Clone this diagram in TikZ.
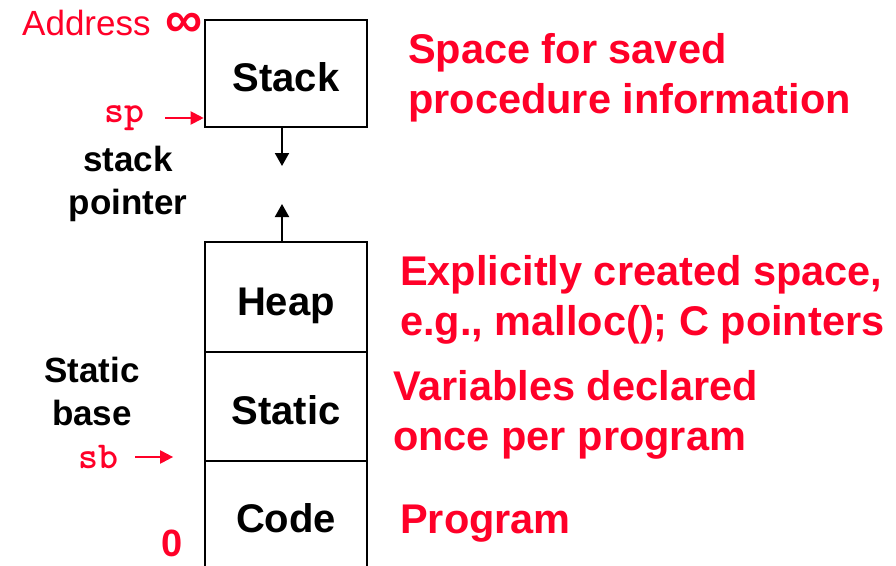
\documentclass[tikz,border=0pt]{standalone}
\usepackage{fontspec}
\setmainfont{Liberation Sans}
\usetikzlibrary{arrows.meta,positioning}
\definecolor{memred}{RGB}{255,0,40}

\begin{document}
\begin{tikzpicture}[x=1pt,y=-1pt,
	seg/.style={draw,line width=2.6pt,minimum width=162pt,inner sep=0pt,text height=36pt,text depth=0pt,font=\fontsize{40}{40}\selectfont\bfseries},
	note/.style={anchor=west,align=left,text=memred,inner sep=0pt,font=\fontsize{41.5}{50}\selectfont\bfseries},
	side/.style={align=center,inner sep=0pt,font=\fontsize{35}{43}\selectfont\bfseries},
	reg/.style={inner sep=0pt,text=memred,font=\fontsize{38}{38}\selectfont\ttfamily\bfseries},
	growarrow/.style={line width=2pt,-{Triangle[length=13pt,width=14pt]}},
	ptr/.style={memred,line width=2pt,-{Triangle[length=13pt,width=13pt]}}]
	\useasboundingbox (0,0) rectangle (896,565);
	% memory segments
	\node[seg,minimum height=107pt] (stack) at (286,73.5) {Stack};
	\node[seg,minimum height=110pt] (heap) at (286,297) {Heap};
	\node[seg,minimum height=109pt] (static) at (286,406.5) {Static};
	\node[seg,minimum height=114pt,text height=29pt] (code) at (286,518) {Code};
	% growth arrows
	\coordinate (shrink) at (282,166);
	\coordinate (rise) at (282,204);
	\draw[growarrow] (shrink |- stack.south) -- (shrink);
	\draw[growarrow] (rise |- heap.north) -- (rise);
	% address labels
	\node[anchor=west,inner sep=0pt,text=memred,font=\fontsize{35}{35}\selectfont] (addr) at (22,23) {Address};
	\node[inner sep=0pt,text=memred,font=\fontsize{52}{52}\selectfont\bfseries] (inf) at (184,25) {∞};
	\node[inner sep=0pt,text=memred,font=\fontsize{38}{38}\selectfont\bfseries] (zero) at (172,543) {0};
	% pointers
	\node[reg] (sp) at (124,118) {sp};
	\draw[ptr] ([xshift=21pt]sp.east) -- (sp.east -| stack.west);
	\node[side] (spname) at (128,184) {stack\\pointer};
	\node[side] (sbname) at (92,391) {Static\\base};
	\node[reg] (sb) at (98,457) {sb};
	\draw[ptr] ([xshift=17pt]sb.east) -- ++(38,0);
	% descriptions
	\node[note] (stacknote) at (408,78) {Space for saved\\procedure information};
	\node[note] (heapnote) at (400,300) {Explicitly created space,\\e.g., malloc(); C pointers};
	\node[note] (staticnote) at (393,415) {Variables declared\\once per program};
	\node[note] (codenote) at (400,524) {Program};
\end{tikzpicture}
\end{document}
